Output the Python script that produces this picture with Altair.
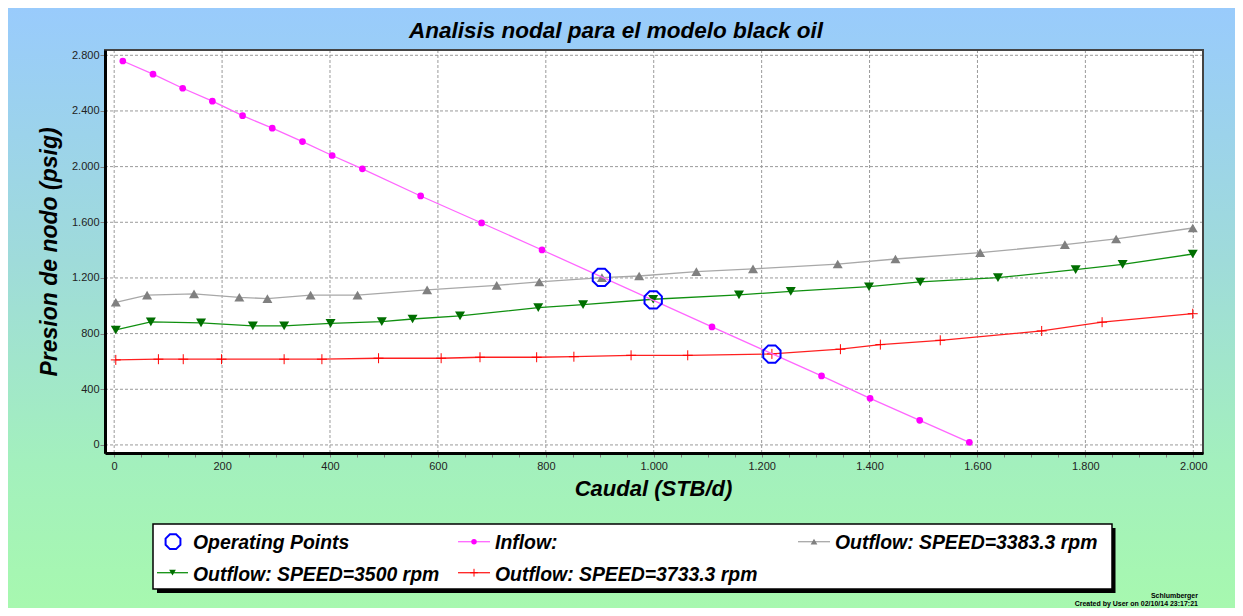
import altair as alt
import pandas as pd

# ---------------- data ----------------
inflow_q = [16, 72, 127, 182, 238, 293, 349, 404, 460, 568, 681, 793, 1108, 1311, 1401, 1493, 1585]
inflow_p = [2759, 2664, 2563, 2470, 2366, 2276, 2180, 2080, 1984, 1789, 1595, 1401, 848, 496, 335, 177, 19]

out3383_q = [3, 61, 148, 232, 284, 364, 451, 580, 709, 788, 904, 973, 1079, 1184, 1341, 1448, 1605, 1762, 1857, 1999]
out3383_p = [1025, 1076, 1085, 1061, 1051, 1076, 1076, 1114, 1147, 1171, 1202, 1214, 1245, 1265, 1300, 1336, 1382, 1439, 1480, 1559]

out3500_q = [3, 68, 161, 257, 315, 401, 496, 553, 641, 786, 869, 999, 1158, 1254, 1399, 1494, 1638, 1782, 1869, 1999]
out3500_p = [826, 884, 877, 855, 855, 874, 886, 905, 927, 987, 1008, 1047, 1078, 1104, 1137, 1171, 1202, 1260, 1298, 1372]

out3733_q = [3, 82, 128, 199, 315, 385, 490, 606, 678, 783, 852, 958, 1063, 1219, 1346, 1420, 1531, 1719, 1831, 1999]
out3733_p = [611, 616, 616, 616, 616, 616, 623, 623, 630, 630, 634, 644, 644, 654, 688, 721, 752, 819, 882, 943]

op_q = [903, 999, 1219]
op_p = [1204, 1042, 653]

x_ticks = [0, 200, 400, 600, 800, 1000, 1200, 1400, 1600, 1800, 2000]
x_minor = list(range(0, 2001, 50))
y_ticks = [0, 400, 800, 1200, 1600, 2000, 2400, 2800]

legend_labels = ["Operating Points", "Inflow:", "Outflow: SPEED=3383.3 rpm",
                 "Outflow: SPEED=3500 rpm", "Outflow: SPEED=3733.3 rpm"]

title_text = "Analisis nodal para el modelo black oil"
x_title = "Caudal (STB/d)"
y_title = "Presion de nodo (psig)"
footer1 = "Schlumberger"
footer2 = "Created by User on 02/10/14 23:17:21"

# ---------------- layout / style ----------------
W, H = 1098, 403
PAD = {"left": 97, "top": 42, "right": 32, "bottom": 155}
FONT = "Liberation Sans"

xs = alt.Scale(domain=[-17, 2018], nice=False, zero=False)
ys = alt.Scale(domain=[-58, 2838], nice=False, zero=False)

OCTAGON = "M-0.414,-1L0.414,-1L1,-0.414L1,0.414L0.414,1L-0.414,1L-1,0.414L-1,-0.414Z"
PLUS = "M0,-1L0,1M-1,0L1,0"

one = pd.DataFrame({"k": [0]})
label_expr_x = "datum.value % 200 === 0 ? replace(format(datum.value, ','), ',', '.') : ''"
label_expr_y = "replace(format(datum.value, ','), ',', '.')"

XAXIS = alt.Axis(values=x_minor, labelExpr=label_expr_x, grid=False, title=None,
                 domainColor="black", domainWidth=3, tickColor="#808080", tickSize=4,
                 labelFont=FONT, labelFontSize=11, labelColor="#222222", labelPadding=3,
                 labelOverlap=False, labelFlush=False, zindex=2)
YAXIS = alt.Axis(values=y_ticks, labelExpr=label_expr_y, grid=False, title=None,
                 domainColor="black", domainWidth=3, tickColor="#808080", tickSize=5,
                 labelFont=FONT, labelFontSize=11, labelColor="#222222", labelPadding=1,
                 labelOverlap=False, labelFlush=False, zindex=2)
X = alt.X("q:Q", scale=xs, axis=XAXIS, title=None)
Y = alt.Y("p:Q", scale=ys, axis=YAXIS, title=None)

layers = []

# background gradient (whole chart)
layers.append(
    alt.Chart(one).mark_rect(
        fill=alt.LinearGradient(
            gradient="linear",
            stops=[alt.GradientStop(color="#99CBFC", offset=0),
                   alt.GradientStop(color="#9FDBDA", offset=0.42),
                   alt.GradientStop(color="#A3F0BD", offset=0.76),
                   alt.GradientStop(color="#A7F8AF", offset=1)],
            x1=0, x2=0, y1=0, y2=1),
    ).encode(x=alt.value(-PAD["left"]), x2=alt.value(W + PAD["right"]),
             y=alt.value(-PAD["top"]), y2=alt.value(H + PAD["bottom"]))
)

# plot area
layers.append(
    alt.Chart(one).mark_rect(fill="white").encode(
        x=alt.value(0), x2=alt.value(W), y=alt.value(0), y2=alt.value(H))
)

# grid
layers.append(
    alt.Chart(pd.DataFrame({"q": x_ticks})).mark_rule(
        color="#9a9a9a", strokeDash=[3, 2], strokeWidth=1
    ).encode(x=X, y=alt.value(0), y2=alt.value(H))
)
layers.append(
    alt.Chart(pd.DataFrame({"p": y_ticks})).mark_rule(
        color="#9a9a9a", strokeDash=[3, 2], strokeWidth=1
    ).encode(y=Y, x=alt.value(0), x2=alt.value(W))
)


def series(q, p, line_color, line_w, **pt):
    df = pd.DataFrame({"q": q, "p": p})
    base = alt.Chart(df).encode(x=X, y=Y)
    return [base.mark_line(color=line_color, strokeWidth=line_w),
            base.mark_point(opacity=1, **pt)]


layers += series(out3383_q, out3383_p, "#A8A8A8", 1.3,
                 shape="triangle-up", filled=True, fill="#808080", size=100, strokeWidth=0)
layers += series(out3500_q, out3500_p, "#109010", 1.3,
                 shape="triangle-down", filled=True, fill="#006E00", size=100, strokeWidth=0)
layers += series(out3733_q, out3733_p, "#FF2020", 1.3,
                 shape=PLUS, filled=False, stroke="#FF0000", size=100, strokeWidth=1)
layers += series(inflow_q, inflow_p, "#FF66FF", 1.3,
                 shape="circle", filled=True, fill="#FF00FF", size=45, strokeWidth=0)

# operating points
layers.append(
    alt.Chart(pd.DataFrame({"q": op_q, "p": op_p})).mark_point(
        shape=OCTAGON, filled=False, stroke="#0000FF", strokeWidth=2, size=300, opacity=1
    ).encode(x=X, y=Y)
)

# plot frame (top/right)
layers.append(
    alt.Chart(one).mark_rect(fill=None, stroke="#444444", strokeWidth=2).encode(
        x=alt.value(0), x2=alt.value(W), y=alt.value(0), y2=alt.value(H))
)


def text(t, x, y, size, align="left", baseline="alphabetic", angle=0, style="italic",
         weight="bold", color="black"):
    kw = dict(text=t, font=FONT, fontSize=size, fontStyle=style, fontWeight=weight,
              align=align, baseline=baseline, color=color)
    if angle:
        kw["angle"] = angle
    return alt.Chart(one).mark_text(**kw).encode(x=alt.value(x), y=alt.value(y))


# titles
layers.append(text(title_text, 511, -11.7, 22.5, align="center"))
layers.append(text(x_title, 548.5, 446, 22, align="center"))
layers.append(text(y_title, -48.5, 202, 23, align="center", angle=270))

# legend box
layers.append(alt.Chart(one).mark_rect(fill="black").encode(
    x=alt.value(52), x2=alt.value(1010.5), y=alt.value(478), y2=alt.value(543)))
layers.append(alt.Chart(one).mark_rect(fill="white", stroke="black", strokeWidth=1.5).encode(
    x=alt.value(48), x2=alt.value(1007), y=alt.value(474), y2=alt.value(539)))

R1, R2 = 491.7, 522.7
B1, B2 = 499.3, 530.7
LFS = 19.4


def leg_line(x1, x2, y, color):
    return alt.Chart(one).mark_rule(color=color, strokeWidth=1.3).encode(
        x=alt.value(x1), x2=alt.value(x2), y=alt.value(y))


def leg_pt(x, y, **pt):
    return alt.Chart(one).mark_point(opacity=1, **pt).encode(x=alt.value(x), y=alt.value(y))


# Operating points
layers.append(leg_pt(68, R1, shape=OCTAGON, filled=False, stroke="#0000FF", strokeWidth=2, size=220))
layers.append(text(legend_labels[0], 88, B1, LFS))
# Inflow
layers.append(leg_line(353, 385, R1, "#FF66FF"))
layers.append(leg_pt(369, R1, shape="circle", filled=True, fill="#FF00FF", size=30, strokeWidth=0))
layers.append(text(legend_labels[1], 390, B1, LFS))
# 3383.3
layers.append(leg_line(693, 725, R1, "#A8A8A8"))
layers.append(leg_pt(709, R1, shape="triangle-up", filled=True, fill="#808080", size=45, strokeWidth=0))
layers.append(text(legend_labels[2], 730, B1, LFS))
# 3500
layers.append(leg_line(52, 83, R2, "#109010"))
layers.append(leg_pt(67.5, R2, shape="triangle-down", filled=True, fill="#006E00", size=45, strokeWidth=0))
layers.append(text(legend_labels[3], 88, B2, LFS))
# 3733.3
layers.append(leg_line(353, 385, R2, "#FF2020"))
layers.append(leg_pt(369, R2, shape=PLUS, filled=False, stroke="#FF0000", size=60, strokeWidth=1))
layers.append(text(legend_labels[4], 390, B2, LFS))

# footer
layers.append(text(footer1, 1093, 547.5, 7, align="right", style="normal"))
layers.append(text(footer2, 1093, 555.5, 7, align="right", style="normal"))

chart = alt.layer(*layers).properties(
    width=W, height=H, padding=PAD,
    autosize=alt.AutoSizeParams(type="none"),
).configure_view(stroke=None, fill=None)

chart.save("out.html", embed_options={"renderer": "svg", "actions": False})
